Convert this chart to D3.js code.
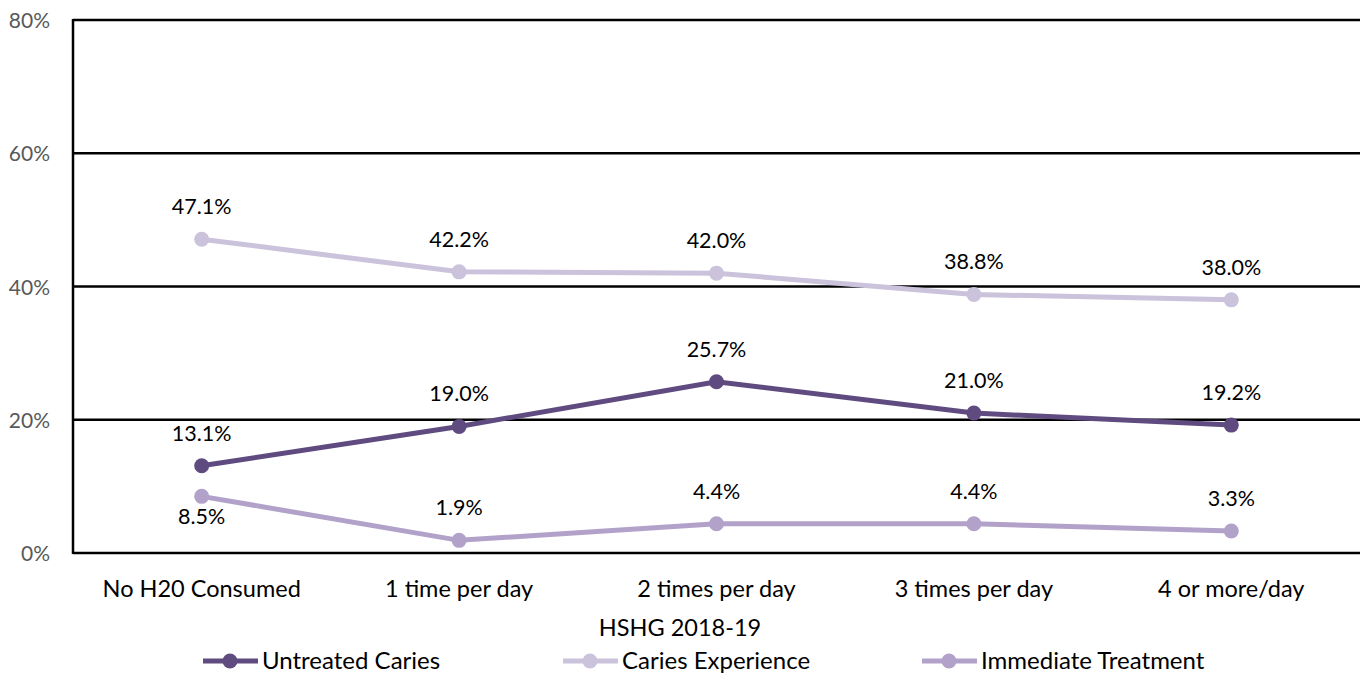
<!DOCTYPE html>
<html lang="en">
<head>
<meta charset="utf-8">
<title>HSHG 2018-19</title>
<script src="https://d3js.org/d3.v7.min.js"></script>
<style>
  body { margin: 0; background: #fff; }
  svg { font-family: Lato, "Open Sans", sans-serif; }
</style>
</head>
<body>
<svg width="1362" height="675"></svg>
<script>
// data
var categories = ["No H20 Consumed", "1 time per day", "2 times per day", "3 times per day", "4 or more/day"];
var untreated = [13.1, 19.0, 25.7, 21.0, 19.2];
var experience = [47.1, 42.2, 42.0, 38.8, 38.0];
var immediate = [8.5, 1.9, 4.4, 4.4, 3.3];
var yTicks = [0, 20, 40, 60, 80];

var series = [
  {name: "Untreated Caries", values: untreated, color: "#5f4b7f", below: []},
  {name: "Caries Experience", values: experience, color: "#cbc2dc", below: []},
  {name: "Immediate Treatment", values: immediate, color: "#b2a2ca", below: [0]}
];

var svg = d3.select("svg");
var plotLeft = 73, plotRight = 1360, plotTop = 20, plotBottom = 553;

var x = d3.scaleBand().domain(categories).range([plotLeft, plotRight]);
var y = d3.scaleLinear().domain([0, 80]).range([plotBottom, plotTop]);

// gridlines
svg.append("g").selectAll("line")
  .data(yTicks)
  .enter().append("line")
    .attr("x1", plotLeft).attr("x2", plotRight)
    .attr("y1", function(d) { return y(d); })
    .attr("y2", function(d) { return y(d); })
    .attr("stroke", "#000").attr("stroke-width", 2.5);

svg.append("line")
  .attr("x1", plotLeft).attr("x2", plotLeft)
  .attr("y1", plotTop - 1).attr("y2", plotBottom + 1)
  .attr("stroke", "#000").attr("stroke-width", 2.5);

// y labels
svg.append("g").selectAll("text")
  .data(yTicks)
  .enter().append("text")
    .attr("x", 50).attr("y", function(d) { return y(d) + 8; })
    .attr("text-anchor", "end")
    .attr("fill", "#595959").attr("font-size", 21)
    .text(function(d) { return d + "%"; });

// x labels
svg.append("g").selectAll("text")
  .data(categories)
  .enter().append("text")
    .attr("x", function(d) { return x(d) + x.bandwidth() / 2; })
    .attr("y", 597)
    .attr("text-anchor", "middle")
    .attr("fill", "#000").attr("font-size", 23.5)
    .text(function(d) { return d; });

svg.append("text")
  .attr("x", 680).attr("y", 636)
  .attr("text-anchor", "middle").attr("font-size", 23.5)
  .text("HSHG 2018-19");

var line = d3.line()
  .x(function(d, i) { return x(categories[i]) + x.bandwidth() / 2; })
  .y(function(d) { return y(d); });

series.forEach(function(s) {
  var g = svg.append("g");
  g.append("path")
    .attr("d", line(s.values))
    .attr("fill", "none")
    .attr("stroke", s.color).attr("stroke-width", 5);
  g.selectAll("circle")
    .data(s.values)
    .enter().append("circle")
      .attr("cx", function(d, i) { return x(categories[i]) + x.bandwidth() / 2; })
      .attr("cy", function(d) { return y(d); })
      .attr("r", 7.5)
      .attr("fill", s.color);
  g.selectAll("text")
    .data(s.values)
    .enter().append("text")
      .attr("x", function(d, i) { return x(categories[i]) + x.bandwidth() / 2; })
      .attr("y", function(d, i) { return s.below.indexOf(i) >= 0 ? y(d) + 28 : y(d) - 25; })
      .attr("text-anchor", "middle")
      .attr("font-size", 21.5)
      .text(function(d) { return d.toFixed(1) + "%"; });
});

// legend
var legendX = [203, 563, 922];
var lg = svg.append("g").selectAll("g")
  .data(series)
  .enter().append("g")
    .attr("transform", function(d, i) { return "translate(" + legendX[i] + ",661)"; });
lg.append("line")
  .attr("x1", 0).attr("x2", 55)
  .attr("stroke", function(d) { return d.color; }).attr("stroke-width", 5);
lg.append("circle")
  .attr("cx", 27).attr("r", 7.5)
  .attr("fill", function(d) { return d.color; });
lg.append("text")
  .attr("x", 59).attr("y", 8)
  .attr("font-size", 24)
  .text(function(d) { return d.name; });
</script>
</body>
</html>
